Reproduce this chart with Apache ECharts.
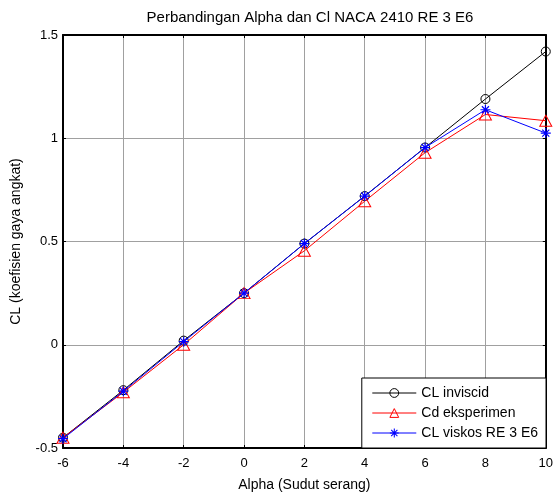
<!DOCTYPE html>
<html>
<head>
<meta charset="utf-8">
<script src="https://cdn.jsdelivr.net/npm/echarts@6/dist/echarts.min.js"></script>
<style>html,body{margin:0;padding:0;background:#fff}#c{width:556px;height:497px}</style>
</head>
<body>
<div id="c"></div>
<script>
const alpha = [-6, -4, -2, 0, 2, 4, 6, 8, 10];
const clInviscid = [-0.45, -0.22, 0.02, 0.25, 0.49, 0.72, 0.955, 1.19, 1.42];
const cdEksperimen = [-0.45, -0.23, 0.0, 0.25, 0.455, 0.695, 0.93, 1.115, 1.085];
const clViskos = [-0.455, -0.225, 0.015, 0.25, 0.49, 0.72, 0.955, 1.138, 1.025];
const seriesNames = ['CL inviscid', 'Cd eksperimen', 'CL viskos RE 3 E6'];
const titleText = 'Perbandingan Alpha dan Cl NACA 2410 RE 3 E6';
const xName = 'Alpha (Sudut serang)';
const yName = 'CL (koefisien gaya angkat)';

const FONT = 'Liberation Sans, Arial, sans-serif';
const asterisk = 'path://M-0.6,-5L0.6,-5L0.6,5L-0.6,5Z M-5,-0.6L5,-0.6L5,0.6L-5,0.6Z M-3.96,-3.11L-3.11,-3.96L3.96,3.11L3.11,3.96Z M3.11,-3.96L3.96,-3.11L-3.11,3.96L-3.96,3.11Z';

const pairs = a => alpha.map((x, i) => [x, a[i]]);

const chart = echarts.init(document.getElementById('c'), null, {renderer: 'canvas'});
chart.setOption({
  animation: false,
  backgroundColor: '#fff',
  textStyle: {fontFamily: FONT},
  title: {
    text: titleText, left: 305, top: 5, textAlign: 'center',
    textStyle: {fontFamily: FONT, fontSize: 15, fontWeight: 'normal', color: '#000'}
  },
  grid: {left: 63, right: 9, top: 35, bottom: 45, show: false},
  legend: {
    orient: 'vertical', right: 10, bottom: 49,
    backgroundColor: '#fff', borderColor: '#000', borderWidth: 1,
    padding: [8, 8, 8, 10], itemGap: 6, itemWidth: 44, itemHeight: 11,
    lineStyle: {width: 1},
    itemStyle: {borderWidth: 1},
    textStyle: {fontFamily: FONT, fontSize: 14, color: '#000'},
    data: seriesNames
  },
  xAxis: [{
    type: 'value', min: -6, max: 10, interval: 2,
    name: xName, nameLocation: 'middle', nameGap: 30,
    nameTextStyle: {fontFamily: FONT, fontSize: 14, color: '#000'},
    axisLine: {show: true, onZero: false, lineStyle: {color: '#000', width: 2}},
    axisTick: {show: true, inside: true, length: 3, lineStyle: {color: '#000'}},
    axisLabel: {fontFamily: FONT, fontSize: 13, color: '#000', margin: 9},
    splitLine: {show: true, lineStyle: {color: '#a0a0a0', width: 1}}
  }, {
    type: 'value', min: -6, max: 10, interval: 2, position: 'top',
    axisLine: {show: true, onZero: false, lineStyle: {color: '#000', width: 2}},
    axisTick: {show: true, inside: true, length: 3, lineStyle: {color: '#000'}},
    axisLabel: {show: false}, splitLine: {show: false}
  }],
  yAxis: [{
    type: 'value', min: -0.5, max: 1.5, interval: 0.5,
    name: yName, nameLocation: 'middle', nameGap: 40, nameRotate: 90,
    nameTextStyle: {fontFamily: FONT, fontSize: 14, color: '#000'},
    axisLine: {show: true, onZero: false, lineStyle: {color: '#000', width: 2}},
    axisTick: {show: true, inside: true, length: 3, lineStyle: {color: '#000'}},
    axisLabel: {fontFamily: FONT, fontSize: 13, color: '#000', margin: 5},
    splitLine: {show: true, lineStyle: {color: '#a0a0a0', width: 1}}
  }, {
    type: 'value', min: -0.5, max: 1.5, interval: 0.5, position: 'right',
    axisLine: {show: true, onZero: false, lineStyle: {color: '#000', width: 2}},
    axisTick: {show: true, inside: true, length: 3, lineStyle: {color: '#000'}},
    axisLabel: {show: false}, splitLine: {show: false}
  }],
  series: [{
    name: seriesNames[0], type: 'line', data: pairs(clInviscid),
    symbol: 'circle', symbolSize: 9, showAllSymbol: true,
    lineStyle: {color: '#000', width: 1},
    itemStyle: {color: 'rgba(0,0,0,0)', borderColor: '#000', borderWidth: 1},
    color: '#000', z: 2
  }, {
    name: seriesNames[1], type: 'line', data: pairs(cdEksperimen),
    symbol: 'triangle', symbolSize: [12, 11], showAllSymbol: true,
    lineStyle: {color: '#ff0000', width: 1},
    itemStyle: {color: 'rgba(0,0,0,0)', borderColor: '#ff0000', borderWidth: 1},
    color: '#ff0000', z: 3
  }, {
    name: seriesNames[2], type: 'line', data: pairs(clViskos),
    symbol: asterisk, symbolSize: 10, showAllSymbol: true,
    lineStyle: {color: '#0000ff', width: 1},
    itemStyle: {color: '#0000ff', borderWidth: 0},
    color: '#0000ff', z: 4
  }]
});
</script>
</body>
</html>
